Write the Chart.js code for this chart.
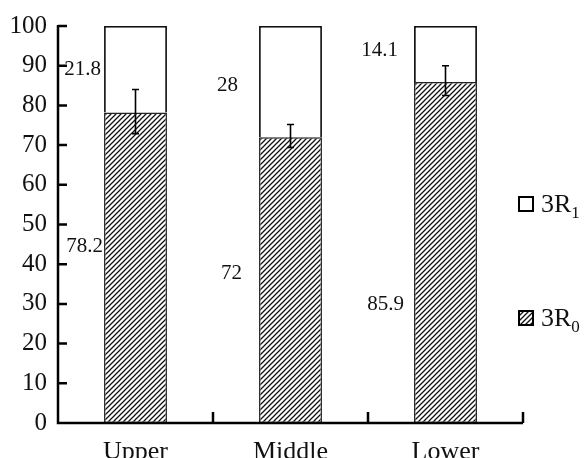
<!DOCTYPE html>
<html>
<head>
<meta charset="utf-8">
<script src="https://cdn.jsdelivr.net/npm/chart.js@4.4.0/dist/chart.umd.min.js"></script>
<style>
  body { margin: 0; background: #fff; }
  #wrap { width: 584px; height: 458px; }
</style>
</head>
<body>
<div id="wrap"><canvas id="mychart" width="584" height="458"></canvas></div>
<script>
// data
const categories = ['Upper', 'Middle', 'Lower']
const r0Values = [78.2, 72, 85.9]
const r1Values = [21.8, 28, 14.1]
const errLow = [72.9, 69.4, 82.5]
const errHigh = [84.0, 75.2, 90.0]
const yTicks = [0, 10, 20, 30, 40, 50, 60, 70, 80, 90, 100]

// where the value labels sit (px offset from bar centre, value on y axis)
const r1LabelPos = [[-53, 89.0], [-63, 85.0], [-66, 93.9]]
const r0LabelPos = [[-51, 44.4], [-59, 37.6], [-60, 29.8]]

const serif = '"Liberation Serif", "Times New Roman", serif'

function hatchPattern() {
  const c = document.createElement('canvas')
  c.width = 5
  c.height = 5
  const g = c.getContext('2d')
  g.fillStyle = '#fff'
  g.fillRect(0, 0, 5, 5)
  g.strokeStyle = '#111'
  g.lineWidth = 1.3
  g.beginPath()
  g.moveTo(-1, 6); g.lineTo(6, -1)
  g.moveTo(-1, 1); g.lineTo(1, -1)
  g.moveTo(4, 6); g.lineTo(6, 4)
  g.stroke()
  return g.createPattern(c, 'repeat')
}
const hatch = hatchPattern()

const extras = {
  id: 'extras',
  afterDraw(chart) {
    const ctx = chart.ctx
    const x = chart.scales.x
    const y = chart.scales.y
    const area = chart.chartArea
    const step = x.getPixelForValue(1) - x.getPixelForValue(0)
    ctx.save()
    ctx.strokeStyle = '#000'
    ctx.lineWidth = 2.5
    ctx.lineCap = 'butt'
    // axes
    ctx.beginPath()
    ctx.moveTo(area.left, y.getPixelForValue(100) - 1)
    ctx.lineTo(area.left, area.bottom)
    ctx.lineTo(area.right, area.bottom)
    ctx.stroke()
    // inward ticks on y
    ctx.beginPath()
    yTicks.forEach(v => {
      if (v === 0) return
      const py = y.getPixelForValue(v)
      ctx.moveTo(area.left, py)
      ctx.lineTo(area.left + 9, py)
    })
    // category boundary ticks on x
    categories.forEach((c, i) => {
      const px = x.getPixelForValue(i) + step / 2
      ctx.moveTo(px, area.bottom)
      ctx.lineTo(px, area.bottom - 11)
    })
    ctx.stroke()

    // error bars
    ctx.lineWidth = 1.6
    ctx.beginPath()
    categories.forEach((c, i) => {
      const px = x.getPixelForValue(i)
      const lo = y.getPixelForValue(errLow[i])
      const hi = y.getPixelForValue(errHigh[i])
      ctx.moveTo(px, lo); ctx.lineTo(px, hi)
      ctx.moveTo(px - 3.5, lo); ctx.lineTo(px + 3.5, lo)
      ctx.moveTo(px - 3.5, hi); ctx.lineTo(px + 3.5, hi)
    })
    ctx.stroke()

    // value labels
    ctx.fillStyle = '#111'
    ctx.font = '21px ' + serif
    ctx.textAlign = 'center'
    ctx.textBaseline = 'middle'
    categories.forEach((c, i) => {
      const px = x.getPixelForValue(i)
      ctx.fillText(String(r1Values[i]), px + r1LabelPos[i][0], y.getPixelForValue(r1LabelPos[i][1]))
      ctx.fillText(String(r0Values[i]), px + r0LabelPos[i][0], y.getPixelForValue(r0LabelPos[i][1]))
    })

    // legend
    const items = [
      { fill: '#fff', sub: '1', cy: 204 },
      { fill: hatch, sub: '0', cy: 318 }
    ]
    items.forEach(it => {
      ctx.fillStyle = it.fill
      ctx.fillRect(519, it.cy - 7, 14, 14)
      ctx.lineWidth = 2
      ctx.strokeStyle = '#000'
      ctx.strokeRect(519, it.cy - 7, 14, 14)
      ctx.fillStyle = '#111'
      ctx.textAlign = 'left'
      ctx.textBaseline = 'alphabetic'
      ctx.font = '26px ' + serif
      ctx.fillText('3R', 541, it.cy + 8)
      const w = ctx.measureText('3R').width
      ctx.font = '17px ' + serif
      ctx.fillText(it.sub, 541 + w, it.cy + 14)
    })
    ctx.restore()
  }
}

new Chart(document.getElementById('mychart'), {
  type: 'bar',
  data: {
    labels: categories,
    datasets: [
      {
        label: '3R0',
        data: r0Values,
        backgroundColor: hatch,
        borderColor: '#222',
        borderWidth: 1.5,
        borderSkipped: false
      },
      {
        label: '3R1',
        data: r1Values,
        backgroundColor: '#fff',
        borderColor: '#111',
        borderWidth: 1.8,
        borderSkipped: 'bottom'
      }
    ]
  },
  options: {
    responsive: false,
    animation: false,
    devicePixelRatio: 1,
    layout: { autoPadding: false, padding: { top: 24, right: 61, left: 0, bottom: 0 } },
    plugins: { legend: { display: false }, tooltip: { enabled: false } },
    datasets: { bar: { barPercentage: 0.406, categoryPercentage: 1 } },
    scales: {
      x: {
        stacked: true,
        grid: { display: false },
        border: { display: false },
        ticks: { color: '#111', font: { family: serif, size: 26 }, padding: 6 },
        afterFit(s) { s.height = 35 }
      },
      y: {
        stacked: true,
        min: 0,
        max: 100,
        afterBuildTicks(s) { s.ticks = yTicks.map(v => ({ value: v })) },
        grid: { display: false, drawTicks: false },
        border: { display: false },
        ticks: { color: '#111', font: { family: serif, size: 25 }, padding: 11 },
        afterFit(s) { s.width = 58 }
      }
    }
  },
  plugins: [extras]
})
</script>
</body>
</html>
